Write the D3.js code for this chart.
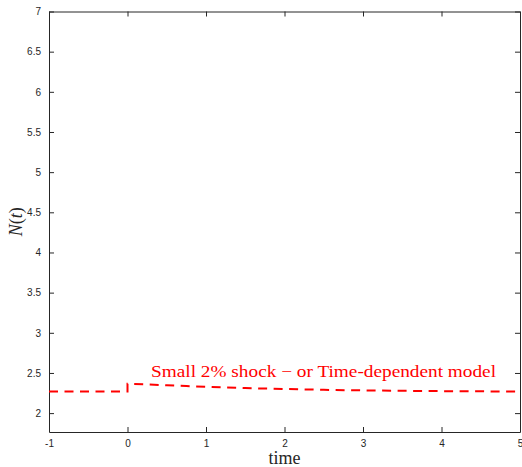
<!DOCTYPE html>
<html>
<head>
<meta charset="utf-8">
<script src="https://cdn.jsdelivr.net/npm/d3@7"></script>
<style>
  html, body { margin: 0; padding: 0; background: #fff; }
  svg { display: block; }
</style>
</head>
<body>
<svg id="chart" width="522" height="467"></svg>
<script>
// Population N(t) after a small 2% shock at t = 0
const times  = [-1, 0, 0, 0.25, 0.5, 0.75, 1, 1.5, 2, 2.5, 3, 3.5, 4, 4.5, 5];
const values = [2.268, 2.268, 2.365, 2.357, 2.347, 2.337, 2.328, 2.312, 2.300, 2.290, 2.283, 2.278, 2.274, 2.271, 2.269];

const xTicks = [-1, 0, 1, 2, 3, 4, 5];
const yTicks = [2, 2.5, 3, 3.5, 4, 4.5, 5, 5.5, 6, 6.5, 7];
const xDomain = [-1, 5];
const yDomain = [1.765, 7];
const annotation = "Small 2% shock \u2212 or Time-dependent model";

const svg = d3.select("#chart");
const m = { left: 49, right: 520, top: 11.5, bottom: 432 };

const x = d3.scaleLinear().domain(xDomain).range([m.left, m.right]);
const y = d3.scaleLinear().domain(yDomain).range([m.bottom, m.top]);

const axisColor = "#262626";
const tickFont = "Liberation Sans, Arial, Helvetica, sans-serif";

// bottom axis (ticks inward)
const gx = svg.append("g").attr("transform", `translate(0,${m.bottom})`)
  .call(d3.axisBottom(x).tickValues(xTicks).tickFormat(d => String(d))
        .tickSizeInner(-5).tickSizeOuter(0).tickPadding(8));
// top mirror ticks
const gxt = svg.append("g").attr("transform", `translate(0,${m.top})`)
  .call(d3.axisTop(x).tickValues(xTicks).tickFormat("")
        .tickSizeInner(-5).tickSizeOuter(0));
// left axis
const gy = svg.append("g").attr("transform", `translate(${m.left},0)`)
  .call(d3.axisLeft(y).tickValues(yTicks).tickFormat(d => String(d))
        .tickSizeInner(-5).tickSizeOuter(0).tickPadding(8));
// right mirror ticks
const gyr = svg.append("g").attr("transform", `translate(${m.right},0)`)
  .call(d3.axisRight(y).tickValues(yTicks).tickFormat("")
        .tickSizeInner(-5).tickSizeOuter(0));

[gx, gxt, gy, gyr].forEach(g => {
  g.select(".domain").attr("stroke", axisColor).attr("stroke-width", 1);
  g.selectAll(".tick line").attr("stroke", axisColor).attr("stroke-width", 1);
  g.selectAll(".tick text").attr("fill", axisColor)
    .style("font-family", tickFont).style("font-size", "10px");
});

// data line
const line = d3.line().x((d, i) => x(times[i])).y(d => y(d));
svg.append("path")
  .datum(values)
  .attr("d", line)
  .attr("fill", "none")
  .attr("stroke", "#ff0000")
  .attr("stroke-width", 2)
  .attr("stroke-dasharray", "9,6.5");

// annotation
svg.append("text")
  .attr("x", x(0.3))
  .attr("y", y(2.45))
  .attr("fill", "#ff0000")
  .attr("textLength", 345)
  .attr("lengthAdjust", "spacingAndGlyphs")
  .style("font-family", "Liberation Serif, Times New Roman, serif")
  .style("font-size", "17px")
  .text(annotation);

// axis titles
svg.append("text")
  .attr("x", x(2))
  .attr("y", 464)
  .attr("text-anchor", "middle")
  .attr("fill", axisColor)
  .style("font-family", "Liberation Serif, Times New Roman, serif")
  .style("font-size", "18px")
  .text("time");

const yl = svg.append("text")
  .attr("transform", `translate(22,${(m.top + m.bottom) / 2}) rotate(-90)`)
  .attr("text-anchor", "middle")
  .attr("fill", axisColor)
  .style("font-family", "Liberation Serif, Times New Roman, serif")
  .style("font-size", "18px");
yl.append("tspan").style("font-style", "italic").text("N");
yl.append("tspan").text("(");
yl.append("tspan").style("font-style", "italic").text("t");
yl.append("tspan").text(")");
</script>
</body>
</html>
